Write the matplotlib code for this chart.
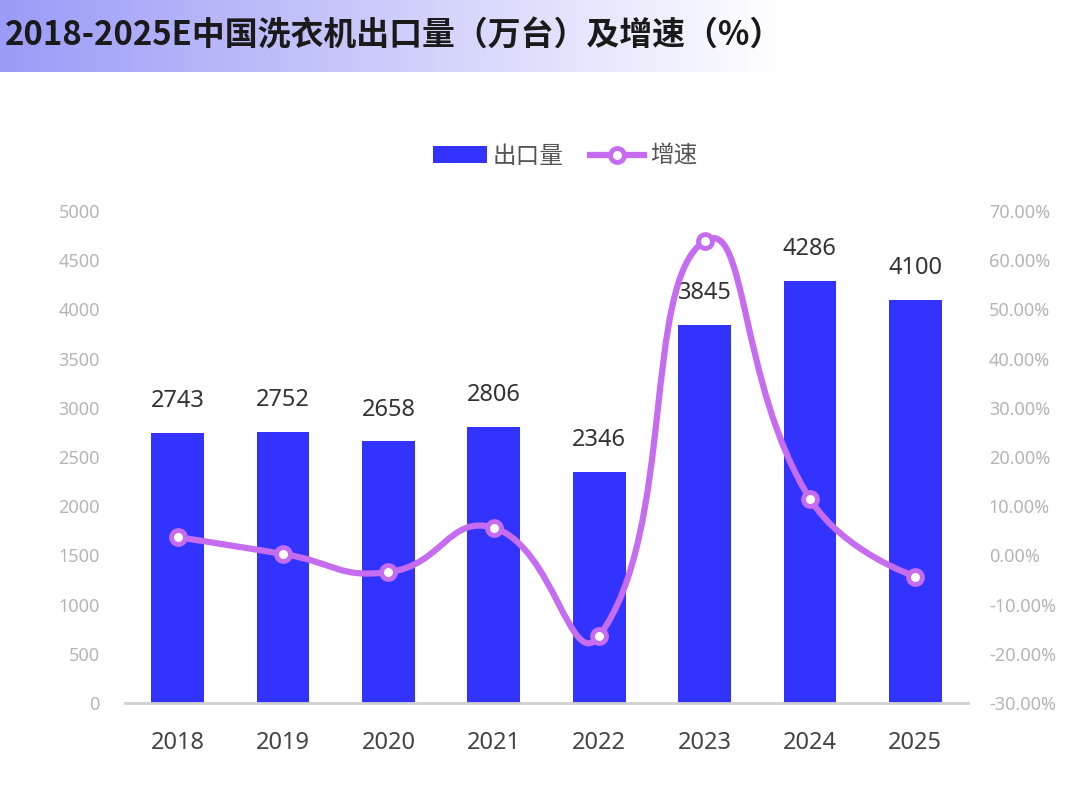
import numpy as np
import matplotlib
matplotlib.use("Agg")
import matplotlib.pyplot as plt
from matplotlib.path import Path
from matplotlib.patches import PathPatch, Patch
from matplotlib.lines import Line2D

plt.rcParams['font.family'] = ['Noto Sans', 'Noto Sans CJK SC', 'DejaVu Sans']

years = ['2018', '2019', '2020', '2021', '2022', '2023', '2024', '2025']
exports = [2743, 2752, 2658, 2806, 2346, 3845, 4286, 4100]
growth = [3.7, 0.3, -3.4, 5.6, -16.4, 63.9, 11.5, -4.3]
left_ticks = [0, 500, 1000, 1500, 2000, 2500, 3000, 3500, 4000, 4500, 5000]
right_ticks = [-30, -20, -10, 0, 10, 20, 30, 40, 50, 60, 70]

title = '2018-2025E中国洗衣机出口量（万台）及增速（%）'
bar_color = '#3333ff'
line_color = '#c56cf0'

W, H = 1086, 799
fig = plt.figure(figsize=(W / 100, H / 100), dpi=100)

# title gradient band
bg = fig.add_axes([0, 1 - 72 / H, 1, 72 / H])
grad = np.linspace(0, 1, 512)
c0 = np.array([155, 155, 248]) / 255
c1 = np.array([255, 255, 255]) / 255
t = np.clip(grad / 0.72, 0, 1)
img = (c0[None, :] * (1 - t[:, None]) + c1[None, :] * t[:, None])[None, :, :]
bg.imshow(img, aspect='auto', extent=[0, 1, 0, 1])
bg.set_axis_off()
fig.text(5 / W, 1 - 36 / H, title, fontsize=23.7, fontweight='black', color='#1a1a1a',
         ha='left', va='center', family=['Noto Sans CJK SC', 'DejaVu Sans'])

ax = fig.add_axes([125 / W, 96 / H, 843 / W, 492 / H])
x = np.arange(len(years))
bars = ax.bar(x, exports, width=0.5, color=bar_color, zorder=2)
ax.set_xlim(-0.5, len(years) - 0.5)
ax.set_ylim(0, 5000)
ax.set_yticks(left_ticks)
ax.set_yticklabels([str(v) for v in left_ticks], fontsize=13, color='#b5b5b5')
ax.set_xticks(x)
ax.set_xticklabels(years, fontsize=17, color='#444444')
ax.tick_params(axis='both', length=0)
ax.tick_params(axis='y', pad=18)
ax.tick_params(axis='x', pad=20)
for s in ['top', 'right', 'left']:
    ax.spines[s].set_visible(False)
ax.spines['bottom'].set_color('#d0d0d0')
ax.spines['bottom'].set_linewidth(2)

for xi, v in zip(x, exports):
    ax.annotate(str(v), (xi, v), xytext=(0, 23), textcoords='offset points',
                ha='center', va='center', fontsize=17, color='#333333', zorder=5)

ax2 = ax.twinx()
ax2.set_ylim(-30, 70)
ax2.set_yticks(right_ticks)
ax2.set_yticklabels([f'{v:.2f}%' for v in right_ticks], fontsize=13, color='#b5b5b5')
ax2.tick_params(axis='y', length=0, pad=15)
for s in ['top', 'right', 'left', 'bottom']:
    ax2.spines[s].set_visible(False)

# echarts-style smooth bezier in display coords
fig.canvas.draw()
pts = ax2.transData.transform(np.column_stack([x, growth]))
smooth = 0.5
n = len(pts)
cp0 = pts.copy()
cp1 = pts.copy()
for i in range(1, n - 1):
    prev, nxt, p = pts[i - 1], pts[i + 1], pts[i]
    v = (nxt - prev) * smooth
    d0 = np.hypot(*(p - prev))
    d1 = np.hypot(*(p - nxt))
    s = d0 + d1
    d0 /= s
    d1 /= s
    cp0[i] = p - v * d0
    cp1[i] = p + v * d1
verts = [pts[0]]
codes = [Path.MOVETO]
for i in range(n - 1):
    verts += [cp1[i], cp0[i + 1], pts[i + 1]]
    codes += [Path.CURVE4] * 3
path = Path(ax2.transData.inverted().transform(np.array(verts)), codes)
ax2.add_patch(PathPatch(path, facecolor='none', edgecolor=line_color, lw=4.5,
                        zorder=3, capstyle='round', joinstyle='round'))
ax2.plot(x, growth, linestyle='none', marker='o', markersize=10, markerfacecolor='white',
         markeredgecolor=line_color, markeredgewidth=3.5, zorder=4)

handles = [Patch(facecolor=bar_color, edgecolor='none'),
           Line2D([0], [0], color=line_color, lw=4.5, marker='o', markersize=10,
                  markerfacecolor='white', markeredgecolor=line_color, markeredgewidth=3.5)]
leg = fig.legend(handles, ['出口量', '增速'], loc='center', bbox_to_anchor=(565 / W, 1 - 157 / H),
                 ncol=2, frameon=False, fontsize=17, handlelength=2.3, handleheight=0.7,
                 columnspacing=1.1, handletextpad=0.25, labelcolor='#555555')

fig.savefig('out.png', dpi=100)
